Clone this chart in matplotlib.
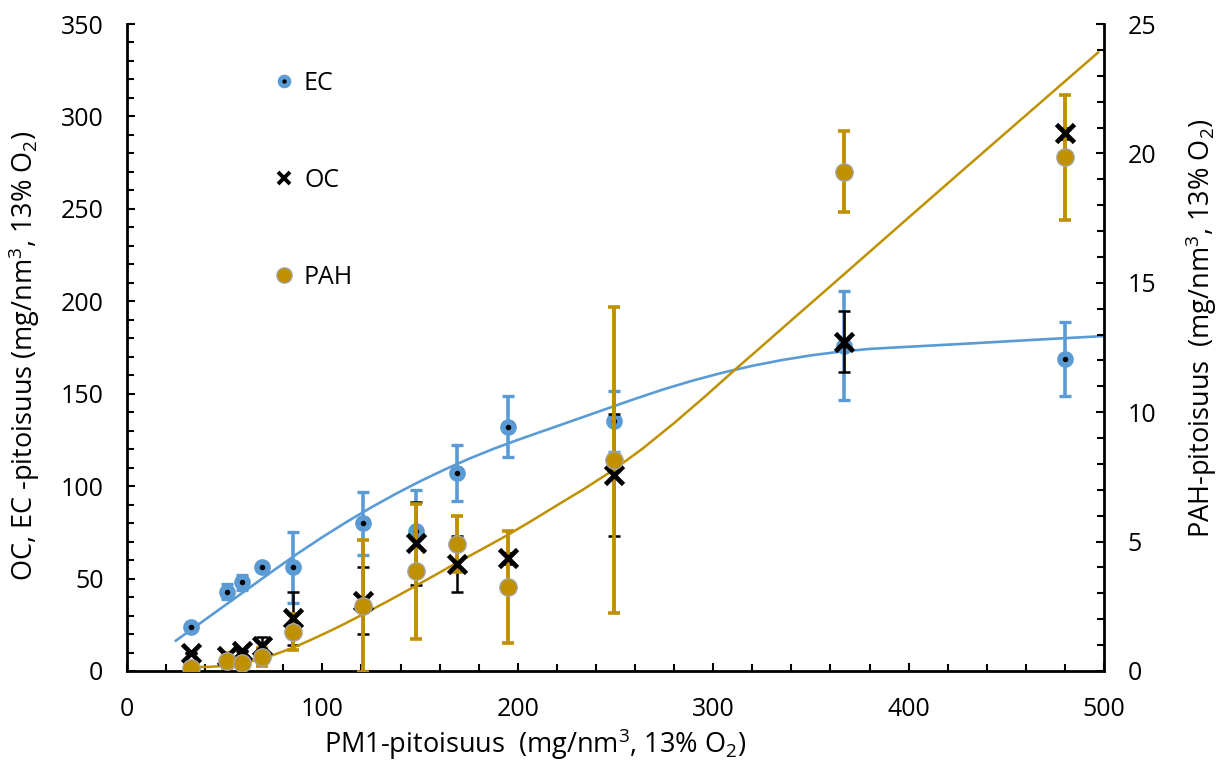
import matplotlib
matplotlib.use("Agg")
import matplotlib.pyplot as plt
from matplotlib.lines import Line2D
from matplotlib.ticker import MultipleLocator

plt.rcParams['font.family'] = ['Open Sans', 'DejaVu Sans']
plt.rcParams['mathtext.default'] = 'regular'

# ---- data ----
pm1 = [33, 51, 59, 69, 85, 121, 148, 169, 195, 249, 367, 480]
ec = [24, 43, 48, 56, 56, 80, 76, 107, 132, 135, 176, 169]
ec_err = [0, 4, 4, 0, 19, 17, 22, 15, 16.5, 16.5, 29.5, 20]
oc = [9.5, 8, 11, 13.5, 28.5, 38, 69, 58, 61, 106, 178, 291]
oc_err = [0, 0, 0, 5, 14.5, 18, 22.5, 15, 3, 33, 16.5, 3]
pah = [0.12, 0.4, 0.3, 0.55, 1.5, 2.5, 3.85, 4.9, 3.25, 8.15, 19.3, 19.85]
pah_err = [0, 0.3, 0, 0.34, 0.69, 2.55, 2.6, 1.08, 2.17, 5.9, 1.55, 2.42]

# trend curves
ec_trend_x = [25, 37.5, 50, 62.5, 75, 87.5, 100, 112.5, 125, 137.5, 150, 162.5, 175, 187.5,
              200, 225, 250, 260, 275, 290, 305, 320, 335, 350, 365, 380, 400, 430, 460, 500]
ec_trend_y = [16.4, 25.9, 35.4, 44.9, 54.4, 63.66, 72.43, 80.71, 88.5, 95.81, 102.63, 108.96,
              114.8, 120.16, 125.03, 134.28, 143.53, 147.23, 152.51, 157.24, 161.43, 165.08,
              168.18, 170.74, 172.76, 174.23, 175.4, 177.1, 178.9, 181.2]
pah_trend_x = [33, 42, 50, 57, 65, 75, 85, 94, 104, 112, 121, 135, 148, 158, 168, 181, 194,
               207, 220, 234, 248, 264, 280, 296, 312, 326, 340, 370, 400, 430, 465, 497]
pah_trend_y = [0.15, 0.16, 0.2, 0.27, 0.4, 0.62, 0.9, 1.2, 1.55, 1.85, 2.2, 2.76, 3.3, 3.72,
               4.15, 4.68, 5.22, 5.8, 6.4, 7.04, 7.72, 8.6, 9.58, 10.62, 11.7, 12.62, 13.55,
               15.53, 17.52, 19.5, 21.8, 23.9]

blue = '#5B9BD5'
gold = '#BF9000'

fig = plt.figure(figsize=(12.21, 7.74), dpi=100)
ax = fig.add_axes([127/1221, 1-671/774, (1104-127)/1221, (671-24)/774])
ax2 = ax.twinx()

# EC
ax.plot(ec_trend_x, ec_trend_y, color=blue, lw=1.9, zorder=2)
ax.errorbar(pm1, ec, yerr=ec_err, fmt='none', ecolor=blue, elinewidth=2.6,
            capsize=4.5, capthick=2.4, zorder=3)
ax.plot(pm1, ec, ls='none', marker='o', ms=8, mfc='black', mec=blue, mew=4.0, zorder=4)
# OC error bars
ax.errorbar(pm1, oc, yerr=oc_err, fmt='none', ecolor='black', elinewidth=1.8,
            capsize=4.5, capthick=1.8, zorder=5)

# PAH on secondary axis
ax2.plot(pah_trend_x, pah_trend_y, color=gold, lw=1.8, zorder=2)
ax2.errorbar(pm1, pah, yerr=pah_err, fmt='none', ecolor=gold, elinewidth=2.8,
             capsize=4.5, capthick=2.6, zorder=3)
# OC markers drawn on top of the PAH error bars, below the PAH markers
oc_on_right = [v * 25 / 350 for v in oc]
ax2.plot(pm1, oc_on_right, ls='none', marker='x', ms=12.5, mec='black', mew=3.4, zorder=7)
ax2.plot(pm1, pah, ls='none', marker='o', ms=12.5, mfc=gold, mec='#A5A5A5', mew=1.0, zorder=8)

ax.set_zorder(1)
ax2.set_zorder(2)
ax.patch.set_visible(False)

ax.set_xlim(0, 500)
ax.set_ylim(0, 350)
ax2.set_ylim(0, 25)

ax.xaxis.set_major_locator(MultipleLocator(100))
ax.xaxis.set_minor_locator(MultipleLocator(20))
ax.yaxis.set_major_locator(MultipleLocator(50))
ax.yaxis.set_minor_locator(MultipleLocator(10))
ax2.yaxis.set_major_locator(MultipleLocator(5))
ax2.yaxis.set_minor_locator(MultipleLocator(1))

for a in (ax, ax2):
    for s in a.spines.values():
        s.set_linewidth(2.0)
    a.spines['top'].set_visible(False)
ax.spines['right'].set_visible(False)
ax2.spines['left'].set_visible(False)
ax2.spines['bottom'].set_visible(False)

ax.tick_params(axis='both', which='both', direction='in', width=1.5, labelsize=18)
ax.tick_params(axis='both', which='major', length=6)
ax.tick_params(axis='both', which='minor', length=5)
ax.tick_params(axis='x', which='major', pad=19)
ax.tick_params(axis='y', which='major', pad=17)
ax2.tick_params(axis='y', which='both', direction='in', width=1.5, labelsize=18)
ax2.tick_params(axis='y', which='major', length=6, pad=17)
ax2.tick_params(axis='y', which='minor', length=5)

ax.set_xlabel('PM1-pitoisuus  (mg/nm$^3$, 13% O$_2$)', fontsize=19.5)
ax.set_ylabel('OC, EC -pitoisuus (mg/nm$^3$, 13% O$_2$)', fontsize=19.5)
ax2.set_ylabel('PAH-pitoisuus  (mg/nm$^3$, 13% O$_2$)', fontsize=19.5)
ax.xaxis.set_label_coords(0.4176, -0.086)
ax.yaxis.set_label_coords(-0.087, 0.488)
ax2.yaxis.set_label_coords(1.081, 0.53)

handles = [
    Line2D([], [], ls='none', marker='o', ms=6.5, mfc='black', mec=blue, mew=3.3),
    Line2D([], [], ls='none', marker='x', ms=9, mec='black', mew=2.8),
    Line2D([], [], ls='none', marker='o', ms=11, mfc=gold, mec='#A5A5A5', mew=1.0),
]
leg = ax2.legend(handles, ['EC', 'OC', 'PAH'], loc='upper left',
                 bbox_to_anchor=(274/1221, 1-71/774), bbox_transform=fig.transFigure,
                 frameon=False, fontsize=18, labelspacing=2.87, handlelength=0.8,
                 handletextpad=0.4, borderpad=0, borderaxespad=0)

fig.savefig('out.png', dpi=100)
